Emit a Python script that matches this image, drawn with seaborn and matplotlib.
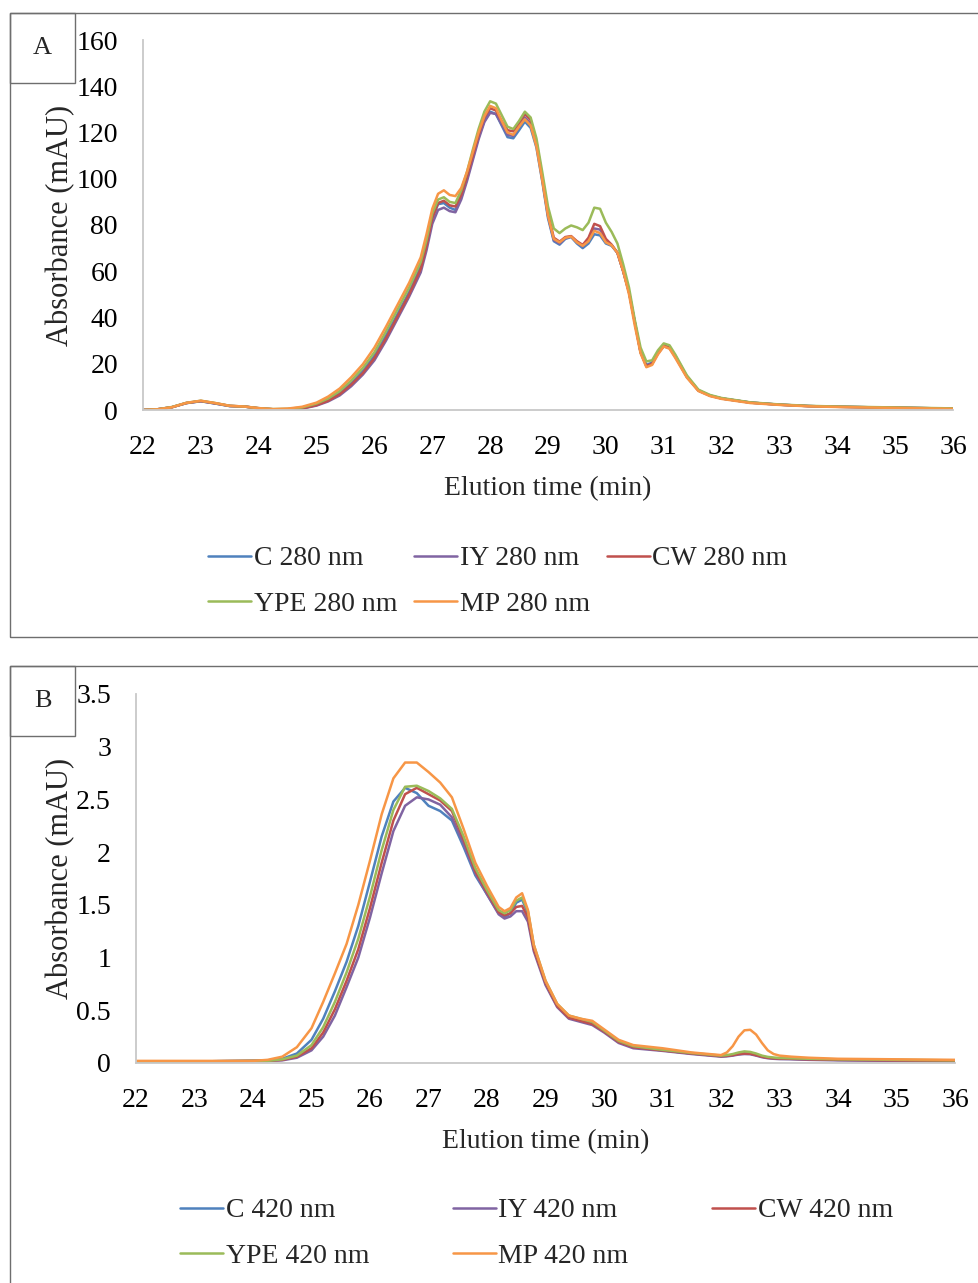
import matplotlib
matplotlib.use("Agg")
import matplotlib.pyplot as plt
from matplotlib.patches import Rectangle
from matplotlib.ticker import FuncFormatter
import numpy as np
import pandas as pd
import seaborn as sns

# ---- data: panel A (280 nm) ----
time_a = [22.0, 22.25, 22.5, 22.75, 23.0, 23.25, 23.5, 23.75, 24.0, 24.25, 24.5, 24.75,
          25.0, 25.2, 25.4, 25.6, 25.8, 26.0, 26.2, 26.4, 26.6, 26.8,
          26.9, 27.0, 27.1, 27.2, 27.3, 27.4, 27.5, 27.6, 27.7, 27.8, 27.9, 28.0,
          28.1, 28.2, 28.3, 28.4, 28.5, 28.6, 28.7, 28.8, 28.9, 29.0,
          29.1, 29.2, 29.3, 29.4, 29.5, 29.6, 29.7, 29.8, 29.9, 30.0,
          30.1, 30.2, 30.3, 30.4, 30.5, 30.6, 30.7, 30.8, 30.9, 31.0,
          31.1, 31.2, 31.4, 31.6, 31.8, 32.0, 32.5, 33.0, 33.5, 34.0, 35.0, 36.0]

c_280 = [0.0, 0.3, 1.2, 3.0, 3.8, 2.8, 1.7, 1.5, 0.7, 0.3, 0.3, 0.8,
         2.3, 4.3, 7.2, 11.6, 16.8, 23.5, 32.2, 41.5, 51.0, 62.0,
         71.5, 83.0, 89.0, 89.5, 87.5, 86.5, 92.0, 100.0, 109.0, 118.0, 125.0, 129.0,
         128.0, 123.0, 118.0, 117.5, 121.0, 124.7, 122.0, 113.5, 99.0, 83.0,
         73.0, 71.5, 74.0, 74.8, 72.0, 70.0, 72.0, 76.0, 75.5, 72.0,
         71.0, 68.0, 60.0, 51.0, 38.0, 25.0, 19.5, 20.5, 25.0, 28.0,
         27.0, 23.5, 14.5, 8.5, 6.3, 5.0, 3.2, 2.3, 1.7, 1.4, 1.0, 0.6]

iy_280 = [0.0, 0.3, 1.2, 3.0, 3.8, 2.8, 1.7, 1.5, 0.7, 0.3, 0.3, 0.6,
          1.9, 3.7, 6.3, 10.3, 15.3, 21.5, 30.0, 39.5, 49.0, 59.5,
          69.0, 80.5, 86.5, 87.5, 86.0, 85.5, 91.0, 99.0, 108.0, 117.0, 124.5, 128.5,
          128.0, 123.5, 119.0, 118.5, 122.5, 126.5, 124.0, 115.0, 100.0, 84.0,
          73.5, 72.0, 74.3, 75.0, 72.5, 70.8, 73.5, 78.5, 78.0, 73.0,
          71.2, 68.0, 60.0, 51.0, 38.0, 25.0, 19.0, 20.0, 24.5, 27.5,
          26.8, 23.0, 14.3, 8.4, 6.2, 5.0, 3.2, 2.3, 1.7, 1.4, 1.0, 0.6]

cw_280 = [0.0, 0.3, 1.2, 3.0, 3.9, 2.9, 1.8, 1.5, 0.8, 0.3, 0.4, 0.7,
          2.1, 4.0, 6.8, 11.0, 16.0, 22.5, 31.0, 40.5, 50.0, 61.0,
          71.0, 83.0, 89.5, 90.5, 88.5, 88.0, 93.0, 101.0, 110.0, 119.0, 126.5, 130.5,
          129.5, 125.0, 121.0, 120.5, 124.0, 128.0, 125.5, 116.0, 101.0, 85.0,
          74.5, 72.8, 74.8, 75.2, 73.0, 71.4, 74.5, 80.5, 79.5, 74.0,
          71.5, 68.0, 60.0, 51.0, 38.0, 25.0, 19.0, 20.0, 24.5, 27.8,
          27.0, 23.2, 14.4, 8.4, 6.2, 5.0, 3.2, 2.3, 1.7, 1.4, 1.0, 0.6]

ype_280 = [0.0, 0.3, 1.3, 3.1, 4.0, 3.0, 1.8, 1.5, 0.8, 0.4, 0.5, 1.1,
           2.8, 5.0, 8.2, 12.8, 18.2, 25.0, 34.0, 43.5, 53.0, 64.0,
           73.5, 85.0, 91.0, 92.0, 90.0, 89.5, 95.0, 103.0, 112.5, 121.5, 129.0, 133.5,
           132.5, 127.5, 122.5, 121.5, 125.0, 129.0, 126.5, 117.5, 103.0, 88.0,
           78.5, 76.5, 78.5, 79.8, 79.0, 77.8, 81.0, 87.5, 87.0, 81.0,
           77.0, 72.0, 63.0, 53.0, 39.0, 27.0, 21.0, 21.5, 25.8, 28.8,
           28.0, 24.0, 15.0, 8.8, 6.5, 5.2, 3.3, 2.4, 1.8, 1.5, 1.1, 0.7]

mp_280 = [0.0, 0.3, 1.2, 3.1, 4.0, 3.0, 1.8, 1.5, 0.8, 0.4, 0.6, 1.4,
          3.2, 5.8, 9.3, 14.2, 19.8, 27.0, 36.0, 45.5, 55.0, 66.0,
          76.0, 87.0, 93.5, 95.0, 93.0, 92.5, 96.0, 103.0, 111.5, 120.0, 127.0, 131.5,
          130.5, 125.0, 120.0, 119.0, 122.5, 125.7, 123.0, 114.0, 99.5, 84.0,
          74.0, 72.5, 74.5, 75.0, 72.5, 71.0, 73.0, 77.5, 76.5, 72.5,
          71.2, 68.0, 60.0, 50.0, 36.5, 24.5, 18.5, 19.5, 24.0, 27.5,
          26.5, 22.5, 14.0, 8.2, 6.0, 4.8, 3.0, 2.2, 1.6, 1.3, 0.9, 0.5]

# ---- data: panel B (420 nm) ----
time_b = [22.0, 23.0, 24.0, 24.25, 24.5, 24.75, 25.0, 25.2, 25.4, 25.6, 25.8, 26.0,
          26.2, 26.4, 26.6, 26.8, 27.0, 27.2, 27.4, 27.6, 27.8, 28.0, 28.2, 28.3,
          28.4, 28.5, 28.6, 28.7, 28.8, 29.0, 29.2, 29.4, 29.6, 29.8, 30.0, 30.25,
          30.5, 31.0, 31.5, 32.0, 32.1, 32.2, 32.3, 32.4, 32.5, 32.6, 32.7, 32.8,
          32.9, 33.0, 33.2, 33.5, 34.0, 35.0, 36.0]

c_420 = [0.01, 0.015, 0.02, 0.025, 0.04, 0.09, 0.22, 0.42, 0.68, 0.96, 1.30, 1.72,
         2.15, 2.48, 2.61, 2.56, 2.44, 2.39, 2.30, 2.05, 1.78, 1.60, 1.42, 1.38,
         1.42, 1.52, 1.55, 1.42, 1.10, 0.76, 0.54, 0.43, 0.40, 0.37, 0.30, 0.20,
         0.15, 0.12, 0.09, 0.065, 0.068, 0.075, 0.085, 0.09, 0.088, 0.075, 0.06, 0.05,
         0.045, 0.042, 0.04, 0.035, 0.03, 0.025, 0.02]

iy_420 = [0.01, 0.015, 0.02, 0.02, 0.025, 0.05, 0.12, 0.25, 0.45, 0.72, 1.00, 1.38,
          1.80, 2.20, 2.44, 2.52, 2.50, 2.45, 2.33, 2.08, 1.80, 1.60, 1.41, 1.37,
          1.39, 1.44, 1.44, 1.34, 1.06, 0.74, 0.53, 0.42, 0.39, 0.36, 0.29, 0.19,
          0.14, 0.115, 0.085, 0.06, 0.063, 0.07, 0.08, 0.085, 0.083, 0.07, 0.055, 0.045,
          0.04, 0.037, 0.035, 0.03, 0.025, 0.02, 0.015]

cw_420 = [0.01, 0.015, 0.02, 0.02, 0.03, 0.06, 0.14, 0.29, 0.51, 0.78, 1.08, 1.47,
          1.90, 2.30, 2.55, 2.61, 2.55, 2.49, 2.39, 2.12, 1.82, 1.62, 1.43, 1.40,
          1.42, 1.48, 1.49, 1.38, 1.08, 0.76, 0.54, 0.43, 0.40, 0.37, 0.30, 0.20,
          0.15, 0.12, 0.09, 0.065, 0.068, 0.075, 0.085, 0.09, 0.088, 0.075, 0.06, 0.05,
          0.045, 0.042, 0.04, 0.035, 0.03, 0.025, 0.02]

ype_420 = [0.01, 0.015, 0.02, 0.02, 0.035, 0.07, 0.17, 0.34, 0.58, 0.86, 1.18, 1.58,
           2.02, 2.40, 2.62, 2.63, 2.58, 2.51, 2.41, 2.15, 1.85, 1.64, 1.45, 1.42,
           1.45, 1.54, 1.57, 1.44, 1.12, 0.78, 0.56, 0.45, 0.42, 0.39, 0.31, 0.21,
           0.16, 0.125, 0.095, 0.07, 0.075, 0.085, 0.10, 0.11, 0.105, 0.09, 0.07, 0.058,
           0.052, 0.048, 0.045, 0.04, 0.035, 0.03, 0.025]

mp_420 = [0.02, 0.02, 0.02, 0.03, 0.06, 0.15, 0.33, 0.58, 0.85, 1.13, 1.50, 1.92,
          2.36, 2.70, 2.85, 2.85, 2.76, 2.66, 2.52, 2.22, 1.90, 1.68, 1.48, 1.44,
          1.47, 1.57, 1.61, 1.45, 1.12, 0.78, 0.56, 0.45, 0.42, 0.40, 0.32, 0.22,
          0.17, 0.14, 0.10, 0.075, 0.10, 0.16, 0.25, 0.31, 0.315, 0.27, 0.19, 0.12,
          0.085, 0.07, 0.06, 0.05, 0.04, 0.035, 0.03]

names = ["C", "IY", "CW", "YPE", "MP"]
colors = ["#4F81BD", "#8064A2", "#C0504D", "#9BBB59", "#F79646"]
series_a = [c_280, iy_280, cw_280, ype_280, mp_280]
series_b = [c_420, iy_420, cw_420, ype_420, mp_420]

sns.set_theme(style="white")
plt.rcParams["font.family"] = ["Liberation Serif", "DejaVu Serif"]

W, H = 979, 1283
fig = plt.figure(figsize=(W / 100, H / 100), dpi=100)


def fx(px):
    return px / W


def fy(py):
    return 1 - py / H


def make_df(times, series, nm):
    frames = []
    for name, vals in zip(names, series):
        frames.append(pd.DataFrame({"t": times, "v": vals, "s": f"{name} {nm} nm"}))
    return pd.concat(frames, ignore_index=True)


def g_fmt(v, pos):
    return f"{v:g}"


def panel(rect, times, series, nm, ymax, ystep, leg_y, leg_x, colsp, ylab_x, xlab_y):
    ax = fig.add_axes(rect)
    df = make_df(times, series, nm)
    sns.lineplot(data=df, x="t", y="v", hue="s", palette=colors, linewidth=1.8,
                 ax=ax, legend=True, sort=False)
    ax.set_xlim(22, 36)
    ax.set_ylim(0, ymax)
    ax.set_xticks(range(22, 37))
    ax.set_yticks(np.arange(0, ymax + ystep / 2, ystep))
    ax.yaxis.set_major_formatter(FuncFormatter(g_fmt))
    for s in ["top", "right"]:
        ax.spines[s].set_visible(False)
    for s in ["left", "bottom"]:
        ax.spines[s].set_color("#C8C8C8")
        ax.spines[s].set_linewidth(1.3)
    ax.tick_params(axis="both", length=0, labelsize=20, colors="black")
    ax.tick_params(axis="y", pad=18)
    ax.tick_params(axis="x", pad=18)
    ax.set_xlabel("Elution time (min)", fontsize=20)
    ax.set_ylabel("Absorbance (mAU)", fontsize=22)
    ax.xaxis.set_label_coords(0.5, xlab_y)
    ax.yaxis.set_label_coords(ylab_x, 0.5)
    handles, labels = ax.get_legend_handles_labels()
    ax.get_legend().remove()
    order = [0, 3, 1, 4, 2]
    fig.legend([handles[i] for i in order], [labels[i] for i in order],
               loc="upper left", bbox_to_anchor=(fx(leg_x), fy(leg_y)), ncol=3,
               frameon=False, fontsize=20, handlelength=1.55, handletextpad=0.1,
               columnspacing=colsp, labelspacing=0.72, borderpad=0, borderaxespad=0)
    return ax


panel([fx(143), fy(410), 810 / W, 370 / H], time_a, series_a, 280, 160, 20,
      546, 208, 0.6, -0.084, -0.178)
panel([fx(136), fy(1063), 819 / W, 369 / H], time_b, series_b, 420, 3.5, 0.5,
      1198, 180, 3.0, -0.0745, -0.18)

# outer frames and panel letters
frame_color = "#6E6E6E"
for (x0, y0, x1, y1) in [(10, 13, 985, 637), (10, 666, 985, 1290)]:
    fig.add_artist(Rectangle((fx(x0), fy(y1)), (x1 - x0) / W, (y1 - y0) / H,
                             transform=fig.transFigure, fill=False,
                             edgecolor=frame_color, linewidth=1.0))
for (x0, y0, x1, y1, letter) in [(10, 13, 75, 83, "A"), (10, 666, 75, 736, "B")]:
    fig.add_artist(Rectangle((fx(x0), fy(y1)), (x1 - x0) / W, (y1 - y0) / H,
                             transform=fig.transFigure, fill=False,
                             edgecolor=frame_color, linewidth=1.0))
    fig.text(fx((x0 + x1) / 2), fy((y0 + y1) / 2), letter, ha="center", va="center",
             fontsize=19)

fig.savefig("out.png", dpi=100)
